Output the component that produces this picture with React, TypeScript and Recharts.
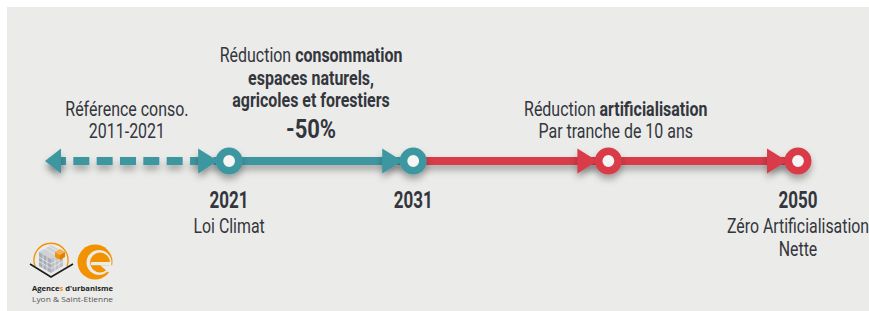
import { ComposedChart, Line, XAxis, YAxis } from "recharts";

const TEAL = "#3e97a1";
const RED = "#d93a48";
const INK = "#33363d";
const PAPER = "#ebebe9";
const ORANGE = "#f39200";

// timeline nodes, positions (2021 = 0, 2031 = 1)
const nodePos = [-1, 0, 1, 2.06, 3.09];
const nodeTone = ["teal", "teal", "teal", "red", "red"];
const nodeYears = ["", "2021", "2031", "", "2050"];
const nodeNotes = [[], ["Loi Climat"], [], [], ["Zéro Artificialisation", "Nette"]];

// segments of the line
const referenceSpan = [-1, 0];
const firstStep = [0, 1];
const secondStep = [1, 2.06, 3.09];

// captions above the line
type Seg = { t: string; b?: boolean };
type CapLine = { segs: Seg[]; big?: boolean };

const captionPos = [-0.555, 0.445, 2.1];
const captionText: CapLine[][] = [
  [{ segs: [{ t: "Référence conso." }] }, { segs: [{ t: "2011-2021" }] }],
  [
    { segs: [{ t: "Réduction " }, { t: "consommation", b: true }] },
    { segs: [{ t: "espaces naturels,", b: true }] },
    { segs: [{ t: "agricoles et forestiers", b: true }] },
    { segs: [{ t: "-50%", b: true }], big: true },
  ],
  [
    { segs: [{ t: "Réduction " }, { t: "artificialisation", b: true }] },
    { segs: [{ t: "Par tranche de 10 ans" }] },
  ],
];

const allX = Array.from(new Set([...nodePos, ...captionPos])).sort((a, b) => a - b);
const rows = allX.map((x) => {
  const n = nodePos.indexOf(x);
  const c = captionPos.indexOf(x);
  return {
    x,
    ref: referenceSpan.includes(x) ? 0 : null,
    step1: firstStep.includes(x) ? 0 : null,
    step2: secondStep.includes(x) ? 0 : null,
    node: n >= 0 ? 0 : null,
    nodeIdx: n,
    cap: c >= 0 ? 0 : null,
    capIdx: c,
  };
});

const FONT = "Roboto, sans-serif";

function Txt({ x, y, size, sx = 0.76, children }: { x: number; y: number; size: number; sx?: number; children: React.ReactNode }) {
  return (
    <text
      transform={`translate(${x} ${y}) scale(${sx} 1)`}
      textAnchor="middle"
      fontFamily={FONT}
      fontSize={size}
      fill={INK}
    >
      {children}
    </text>
  );
}

const renderNode = (p: any) => {
  const { cx, cy, payload, index } = p;
  const i = payload?.nodeIdx;
  if (i == null || i < 0 || cy == null) return <g key={`n-${index}`} />;
  const col = nodeTone[i] === "teal" ? TEAL : RED;
  if (i === 0) {
    return (
      <g key={`n-${index}`} filter="url(#tlShadow)">
        <polygon points={`${cx},${cy} ${cx + 16},${cy - 12.5} ${cx + 16},${cy + 12.5}`} fill={col} />
      </g>
    );
  }
  const tip = cx - 11;
  const notes = nodeNotes[i];
  return (
    <g key={`n-${index}`}>
      <g filter="url(#tlShadow)">
        <polygon points={`${tip},${cy} ${tip - 20},${cy - 12.5} ${tip - 20},${cy + 12.5}`} fill={col} />
        <circle cx={cx} cy={cy} r={9.7} fill="#f5f5f3" stroke={col} strokeWidth={7.6} />
      </g>
      {nodeYears[i] && (
        <Txt x={cx} y={cy + 47} size={23} sx={0.74}>
          <tspan fontWeight={700}>{nodeYears[i]}</tspan>
        </Txt>
      )}
      {notes.map((t, k) => (
        <Txt key={t} x={cx} y={cy + 72 + k * 23} size={20.5} sx={0.775}>
          {t}
        </Txt>
      ))}
    </g>
  );
};

const renderCaption = (p: any) => {
  const { cx, cy, payload, index } = p;
  const c = payload?.capIdx;
  if (c == null || c < 0 || cy == null) return <g key={`c-${index}`} />;
  const lines = captionText[c];
  let base = cy - 23;
  const out: React.ReactNode[] = [];
  for (let k = lines.length - 1; k >= 0; k--) {
    const ln = lines[k];
    out.push(
      <Txt key={k} x={cx} y={base} size={ln.big ? 25 : 21} sx={ln.big ? 0.88 : 0.76}>
        {ln.segs.map((s, j) => (
          <tspan key={j} fontWeight={s.b ? 700 : 400}>
            {s.t}
          </tspan>
        ))}
      </Txt>
    );
    base -= ln.big ? 31 : 22.5;
  }
  return <g key={`c-${index}`}>{out}</g>;
};

function Logo() {
  const lf = "'Open Sans', sans-serif";
  return (
    <g>
      <path d="M35,266 A17,17 0 1 1 67,266" fill="none" stroke={ORANGE} strokeWidth={1.3} />
      <polygon points="51,245 63,252 51,259 39,252" fill="#cfd2d7" />
      <polygon points="39,252 51,259 51,273 39,266" fill="#a8adb5" />
      <polygon points="51,259 63,252 63,266 51,273" fill="#bcc0c6" />
      <g stroke="#eef0f2" strokeWidth={0.7}>
        <line x1={43} y1={247.3} x2={55} y2={254.3} />
        <line x1={47} y1={245} x2={59} y2={252} />
        <line x1={43} y1={254.3} x2={43} y2={268.3} />
        <line x1={47} y1={256.6} x2={47} y2={270.6} />
        <line x1={39} y1={257} x2={51} y2={264} />
        <line x1={39} y1={261.5} x2={51} y2={268.5} />
        <line x1={55} y1={256.6} x2={55} y2={270.6} />
        <line x1={59} y1={254.3} x2={59} y2={268.3} />
        <line x1={51} y1={264} x2={63} y2={257} />
        <line x1={51} y1={268.5} x2={63} y2={261.5} />
      </g>
      <polygon points="60,249 65,252 60,255 55,252" fill="#f7b04d" />
      <polygon points="55,252 60,255 60,260 55,257" fill={ORANGE} />
      <polygon points="60,255 65,252 65,257 60,260" fill="#e07f00" />
      <polyline points="30,264 51,277 73,264" fill="none" stroke="#1d1d1b" strokeWidth={1.6} />
      <circle cx={95} cy={262} r={17.5} fill={ORANGE} />
      <circle cx={99} cy={262.5} r={12.5} fill={PAPER} />
      <circle cx={100} cy={262.5} r={10} fill={ORANGE} />
      <rect x={91} y={262} width={20} height={3.2} fill={PAPER} />
      <polygon points="100,265.2 113,265.2 113,276" fill={PAPER} />
      <text x={32} y={291} fontFamily={lf} fontWeight={700} fontSize={7.6} fill="#1d1d1b" textLength={81} lengthAdjust="spacingAndGlyphs">
        Agence<tspan fill={ORANGE}>s</tspan> d'urbanisme
      </text>
      <text x={32} y={301.5} fontFamily={lf} fontSize={7.6} fill="#555" textLength={81} lengthAdjust="spacingAndGlyphs">
        Lyon &amp; Saint-Etienne
      </text>
    </g>
  );
}

export default function App() {
  const lineProps = {
    strokeWidth: 8,
    connectNulls: true,
    dot: false as const,
    activeDot: false as const,
    filter: "url(#tlShadow)",
    isAnimationActive: false,
  };
  return (
    <div style={{ position: "absolute", left: 0, top: 0, width: 869, height: 311, background: "#fff", overflow: "hidden" }}>
      <div style={{ position: "absolute", left: 7, top: 7, width: 862, height: 304, background: PAPER }} />
      <svg width={869} height={311} style={{ position: "absolute", left: 0, top: 0 }}>
        <defs>
          <filter id="tlShadow" filterUnits="userSpaceOnUse" x={0} y={0} width={869} height={311}>
            <feDropShadow dx={0} dy={5} stdDeviation={3.5} floodColor="#000" floodOpacity={0.3} />
          </filter>
        </defs>
        <Logo />
      </svg>
      <div style={{ position: "absolute", left: 0, top: 0 }}>
        <ComposedChart width={869} height={311} data={rows} margin={{ top: 20, right: 71, bottom: 9, left: 45 }}>
          <XAxis dataKey="x" type="number" domain={[-1, 3.09]} hide />
          <YAxis type="number" domain={[-1, 1]} hide />
          <Line dataKey="ref" stroke={TEAL} strokeDasharray="16 7.33" strokeDashoffset={18.33} {...lineProps} />
          <Line dataKey="step2" stroke={RED} {...lineProps} />
          <Line dataKey="step1" stroke={TEAL} {...lineProps} />
          <Line dataKey="node" stroke="none" connectNulls dot={renderNode} activeDot={false} isAnimationActive={false} />
          <Line dataKey="cap" stroke="none" connectNulls dot={renderCaption} activeDot={false} isAnimationActive={false} />
        </ComposedChart>
      </div>
    </div>
  );
}
